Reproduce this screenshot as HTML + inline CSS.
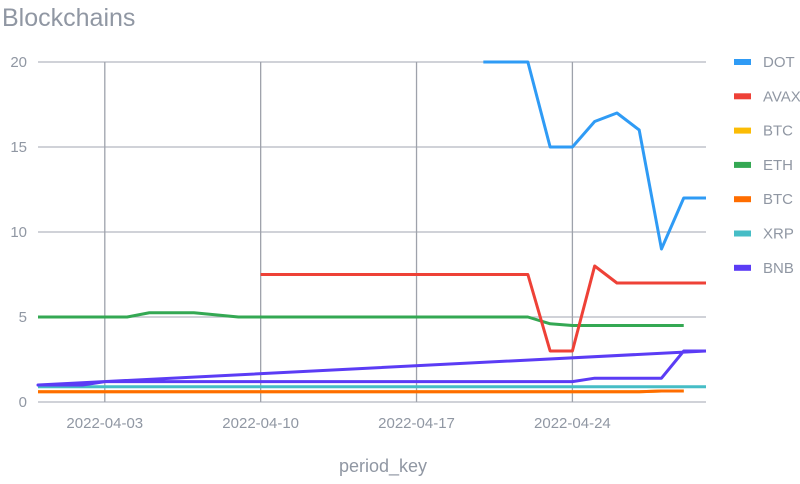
<!DOCTYPE html>
<html><head><meta charset="utf-8"><style>
body{margin:0;background:#fff;width:800px;height:479px;overflow:hidden;font-family:"Liberation Sans",sans-serif}
</style></head><body>
<svg width="800" height="479">
<text x="2" y="26" font-size="25" fill="#9097a3">Blockchains</text>
<g id="grid"></g><g id="series"></g><g id="legend"></g>
<text x="383" y="472" font-size="18" fill="#9097a3" text-anchor="middle">period_key</text>
</svg>
<script>
const yTicks=[0,5,10,15,20];
const xTickDays=[3,10,17,24];
const xTickLabels=["2022-04-03","2022-04-10","2022-04-17","2022-04-24"];
const seriesNames=["DOT","AVAX","BTC","ETH","BTC","XRP","BNB"];
const seriesColors=["#2f9bf5","#ee4137","#fbbc05","#34a853","#ff6d00","#46bdc6","#5b3cf5"];
const dotDays=[20,22,23,24,25,26,27,28,29,30];
const dotVals=[20,20,15,15,16.5,17,16,9,12,12];
const avaxDays=[10,22,23,24,25,26,30];
const avaxVals=[7.5,7.5,3,3,8,7,7];
const btcYDays=[0,27,28,29];
const btcYVals=[0.6,0.6,0.65,0.65];
const ethDays=[0,4,5,7,9,22,23,24,29];
const ethVals=[5,5,5.25,5.25,5,5,4.6,4.5,4.5];
const btcDays=[0,27,28,29];
const btcVals=[0.6,0.6,0.65,0.65];
const xrpDays=[0,30];
const xrpVals=[0.9,0.9];
const bnbDays=[30,0,2,3,24,25,28,29,30];
const bnbVals=[3,1,1,1.2,1.2,1.4,1.4,3,3];
const allDays=[dotDays,avaxDays,btcYDays,ethDays,btcDays,xrpDays,bnbDays];
const allVals=[dotVals,avaxVals,btcYVals,ethVals,btcVals,xrpVals,bnbVals];
const X0=38,X1=706,Y0=402,Y1=62,DMAX=30,VMAX=20;
const xs=d=>X0+(X1-X0)*d/DMAX, ys=v=>Y0-(Y0-Y1)*v/VMAX;
const NS="http://www.w3.org/2000/svg";
function mk(t,a,p){const e=document.createElementNS(NS,t);for(const k in a)e.setAttribute(k,a[k]);p.appendChild(e);return e;}
const g=document.getElementById('grid');
yTicks.forEach(v=>{
 const l=mk('line',{x1:X0,x2:X1,y1:ys(v),y2:ys(v),stroke:'#b4b8c0','stroke-width':1.3},g);
 
 
 const t=mk('text',{x:27,y:ys(v)+5,'font-size':15,fill:'#9097a3','text-anchor':'end'},g);
 t.textContent=v;
 
 
});
xTickDays.forEach((d,i)=>{
 const l=mk('line',{x1:xs(d),x2:xs(d),y1:Y1,y2:Y0,stroke:'#9ea2ab','stroke-width':1.3},g);
 
 
 const t=mk('text',{x:xs(d),y:428,'font-size':15,fill:'#9097a3','text-anchor':'middle'},g);
 t.textContent=xTickLabels[i];
 
 
});
const s=document.getElementById('series');
const order=[2,5,4,3,6,1,0];
order.forEach(i=>{
 const pts=allDays[i].map((d,j)=>xs(d)+','+ys(allVals[i][j])).join(' ');
 const p=mk('polyline',{points:pts,fill:'none',stroke:seriesColors[i],'stroke-width':3,'stroke-linejoin':'round'},s);
 
 
});
const lg=document.getElementById('legend');
seriesNames.forEach((n,i)=>{
 const y=62+i*34.3;
 const r=mk('rect',{x:734,y:y-3,width:17,height:6,fill:seriesColors[i]},lg);
 
 
 const t=mk('text',{x:763,y:y+5,'font-size':15,fill:'#9097a3'},lg);
 t.textContent=n;
 
 
});
</script>
</body></html>
